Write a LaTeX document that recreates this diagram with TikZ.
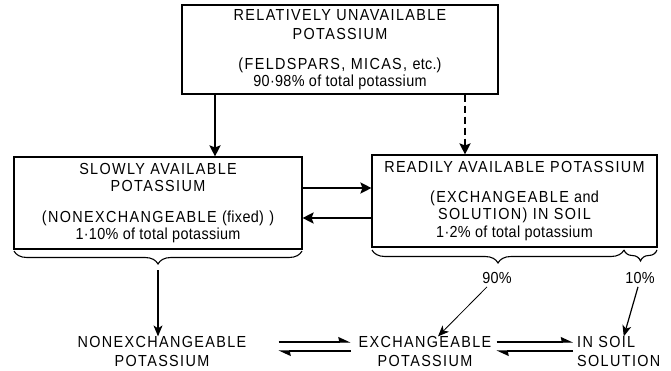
\documentclass[tikz,border=0pt]{standalone}
\usepackage{fontspec}
\setmainfont{Liberation Sans}[LetterSpace=8.5,FakeStretch=0.9]
\newfontfamily\lc{Liberation Sans}[LetterSpace=2,FakeStretch=0.9]
\usetikzlibrary{arrows.meta,decorations.pathreplacing,calc}
\begin{document}
\begin{tikzpicture}[x=1pt,y=-1pt,
  box/.style={draw, line width=1.1pt, rectangle, inner sep=0pt, align=center, font=\fontsize{16}{17}\selectfont},
  lbl/.style={inner sep=0pt, align=center, font=\fontsize{16}{18.5}\selectfont},
  big/.style={line width=2.4pt, -{Stealth[length=11pt,width=11pt,inset=2pt]}},
  thinarr/.style={line width=1.2pt, -{Stealth[length=11pt,width=9pt,inset=3pt]}},
  brc/.style={line width=1.1pt, decorate, decoration={brace, mirror, amplitude=13pt}},
  hR/.style={line width=1.1pt, -{Stealth[harpoon,length=11pt,width=10pt,inset=1pt]}},
]
\useasboundingbox (0,0) rectangle (671,371);
% boxes
\node[box, minimum width=316pt, minimum height=89pt] (top) at (340,49.5)
  {RELATIVELY UNAVAILABLE\\[2pt]POTASSIUM\\[13pt](FELDSPARS, MICAS, {\lc etc.})\\[0.5pt]{\lc 90·98\% of total potassium}};
\node[box, minimum width=288pt, minimum height=92pt] (left) at (158,203)
  {SLOWLY AVAILABLE\\POTASSIUM\\[14pt](NONEXCHANGEABLE {\lc (fixed)} )\\{\lc 1·10\% of total potassium}};
\node[box, minimum width=285pt, minimum height=92pt] (right) at (514.5,201)
  {READILY AVAILABLE POTASSIUM\\[13pt](EXCHANGEABLE {\lc and}\\SOLUTION) IN SOIL\\[1pt]{\lc 1·2\% of total potassium}};
% vertical arrows from top box
\coordinate (vA) at (215,0);
\coordinate (vB) at (465,0);
\draw[big] (top.south -| vA) -- (left.north -| vA);
\draw[big, dash pattern=on 7pt off 4pt] (top.south -| vB) -- (right.north -| vB);
% horizontal arrows
\coordinate (hA) at (0,188);
\coordinate (hB) at (0,218);
\draw[big] (left.east |- hA) -- (right.west |- hA);
\draw[big] (right.west |- hB) -- (left.east |- hB);
% braces
\coordinate (bL1) at (14,251);
\coordinate (bL2) at (302,251);
\coordinate (bR1) at (372,250);
\coordinate (bRm) at (624,250);
\coordinate (bR2) at (657,250);
\draw[brc] (bL1) -- (bL2);
\draw[brc] (bR1) -- (bRm);
\draw[brc, decoration={brace, mirror, amplitude=11pt}] (bRm) -- (bR2);
\coordinate (tipL) at (158,270);
% labels
\node[lbl] (p90) at (497,278) {\lc 90\%};
\node[lbl] (p10) at (640,278) {\lc 10\%};
% bottom nodes
\node[lbl] (nonex) at (162,351.5) {NONEXCHANGEABLE\\POTASSIUM};
\node[lbl] (exch) at (425,351.5) {EXCHANGEABLE\\POTASSIUM};
\node[lbl, align=left, anchor=west] (soil) at (577,351.5) {IN SOIL\\SOLUTION};
% arrows to bottom
\draw[thinarr] (tipL) -- (tipL |- nonex.north);
\draw[thinarr, line width=0.8pt] ([xshift=-10pt,yshift=-3pt]p90.south) -- ([xshift=13pt]exch.north);
\draw[thinarr] ([xshift=-2pt,yshift=-3pt]p10.south) -- ([xshift=5pt]soil.north);
% equilibrium harpoons
\draw[hR] ([xshift=32pt,yshift=9.5pt]nonex.east) -- ([xshift=-8pt,yshift=9.5pt]exch.west);
\draw[hR] ([xshift=-8pt,yshift=0.5pt]exch.west) -- ([xshift=32pt,yshift=0.5pt]nonex.east);
\draw[hR] ([xshift=5pt,yshift=9.5pt]exch.east) -- ([xshift=-4pt,yshift=9.5pt]soil.west);
\draw[hR] ([xshift=-4pt,yshift=0.5pt]soil.west) -- ([xshift=5pt,yshift=0.5pt]exch.east);
\end{tikzpicture}
\end{document}
